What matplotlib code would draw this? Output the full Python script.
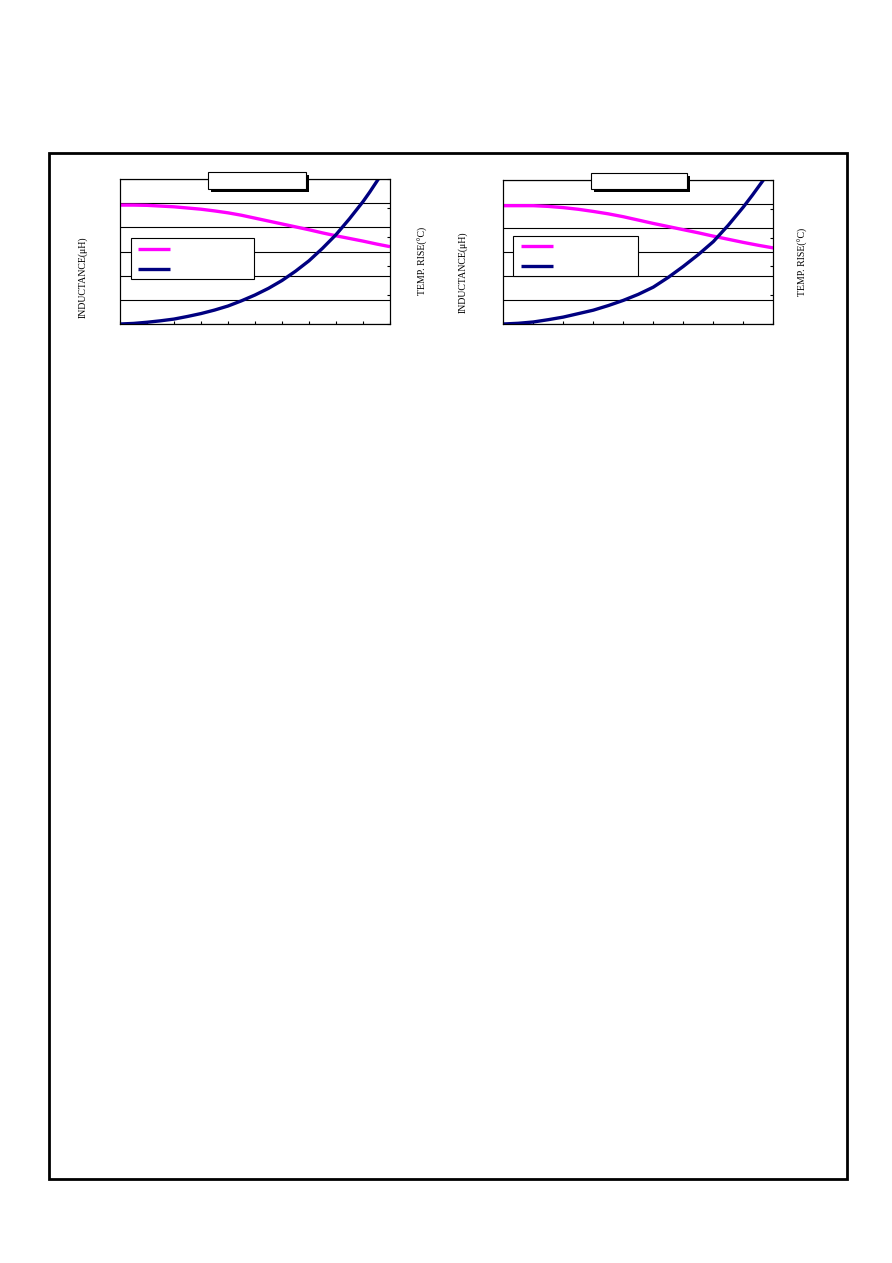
import matplotlib
matplotlib.use("Agg")
import matplotlib.pyplot as plt
from matplotlib.patches import Rectangle
from matplotlib.lines import Line2D

W, H = 892, 1263

# left chart: inductance (left axis) and temp rise (right axis)
x_a = [0, 0.5, 1, 1.5, 2, 2.5, 3, 3.5, 4, 4.5, 5, 5.5, 6, 6.5, 7, 7.5, 8, 8.5, 9, 9.5, 10]
ind_a = [4.92, 4.92, 4.91, 4.88, 4.85, 4.8, 4.75, 4.68, 4.6, 4.5, 4.38, 4.26, 4.14,
         4.02, 3.9, 3.77, 3.65, 3.54, 3.43, 3.31, 3.2]
xt_a = [0, 0.5, 1, 1.5, 2, 2.5, 3, 3.5, 4, 4.5, 5, 5.5, 6, 6.5, 7, 7.5, 8, 8.5, 9, 9.25, 9.57]
temp_a = [0, 0.02, 0.06, 0.11, 0.17, 0.26, 0.36, 0.48, 0.62, 0.8, 1.0, 1.23, 1.5,
          1.82, 2.18, 2.61, 3.08, 3.63, 4.22, 4.55, 5.0]

# right chart
x_b = [0, 0.5, 1, 1.5, 2, 2.5, 3, 3.5, 4, 4.5, 5, 5.5, 6, 6.5, 7, 7.5, 8, 8.5, 9]
ind_b = [4.93, 4.93, 4.93, 4.9, 4.85, 4.78, 4.69, 4.59, 4.47, 4.33, 4.19, 4.06, 3.93,
         3.8, 3.66, 3.53, 3.4, 3.28, 3.17]
xt_b = [0, 0.5, 1, 1.5, 2, 2.5, 3, 3.5, 4, 4.5, 5, 5.5, 6, 6.5, 7, 7.5, 8, 8.3, 8.67]
temp_b = [0, 0.025, 0.07, 0.15, 0.24, 0.36, 0.48, 0.64, 0.82, 1.03, 1.28, 1.62, 2.0,
          2.41, 2.86, 3.43, 4.06, 4.47, 5.0]

MAG = "#FF00FF"
NAVY = "#000080"

fig = plt.figure(figsize=(W / 100, H / 100), dpi=100)


def rect(x0, y0, x1, y1, **kw):
    r = Rectangle((x0 / W, 1 - y1 / H), (x1 - x0) / W, (y1 - y0) / H,
                  transform=fig.transFigure, **kw)
    fig.add_artist(r)


def hline(x0, x1, y, **kw):
    fig.add_artist(Line2D([x0 / W, x1 / W], [1 - y / H, 1 - y / H],
                          transform=fig.transFigure, **kw))


def panel(box, xs, ind, xt, temp, xmax, title_box, leg_box, leg_y, leg_x, lab_l, lab_r):
    l, t, r, b = box
    ax = fig.add_axes([l / W, 1 - b / H, (r - l) / W, (b - t) / H])
    ax.plot(xs, ind, color=MAG, lw=2.4, solid_capstyle="butt")
    ax.set_xlim(0, xmax)
    ax.set_ylim(0, 6)
    ax.set_yticks(range(7))
    ax.set_xticks(range(xmax + 1))
    ax.grid(axis="y", color="black", lw=0.8)
    ax.tick_params(axis="y", length=0, labelleft=False)
    ax.tick_params(axis="x", direction="in", length=2.5, width=0.8, labelbottom=False)
    for s in ax.spines.values():
        s.set_linewidth(0.8)

    ax2 = ax.twinx()
    ax2.plot(xt, temp, color=NAVY, lw=2.4, solid_capstyle="butt")
    ax2.set_ylim(0, 5)
    ax2.set_yticks(range(6))
    ax2.tick_params(axis="y", direction="in", length=2.5, width=0.8, labelright=False)
    for s in ax2.spines.values():
        s.set_linewidth(0.8)

    # title box with shadow
    x0, y0, x1, y1 = title_box
    rect(x0 + 3, y0 + 3, x1 + 3, y1 + 3, facecolor="black", edgecolor="none", zorder=3)
    rect(x0, y0, x1, y1, facecolor="white", edgecolor="black", lw=0.8, zorder=4)

    # legend box
    x0, y0, x1, y1 = leg_box
    rect(x0, y0, x1, y1, facecolor="white", edgecolor="black", lw=0.8, zorder=3)
    hline(leg_x[0], leg_x[1], leg_y[0], color=MAG, lw=2.4, zorder=4, solid_capstyle="butt")
    hline(leg_x[0], leg_x[1], leg_y[1], color=NAVY, lw=2.4, zorder=4, solid_capstyle="butt")

    fig.text(lab_l[0] / W, 1 - lab_l[1] / H, "INDUCTANCE(μH)", rotation=90,
             ha="center", va="center", family="Liberation Serif", fontsize=7.1)
    fig.text(lab_r[0] / W, 1 - lab_r[1] / H, "TEMP. RISE(°C)", rotation=90,
             ha="center", va="center", family="Liberation Serif", fontsize=7.1)


panel((120, 179, 390, 324), x_a, ind_a, xt_a, temp_a, 10,
      (208, 172, 306, 189), (131, 238, 254, 279), (249, 269), (138, 170),
      (83, 277), (423, 261))
panel((503.3, 180, 773.3, 324), x_b, ind_b, xt_b, temp_b, 9,
      (590.7, 172.7, 687.3, 189.3), (513.3, 236.3, 638.3, 276.3), (246.3, 266.3), (521, 553),
      (463, 272), (803, 262))

# outer frame
rect(48.7, 153, 847, 1179.3, facecolor="none", edgecolor="black", lw=2, zorder=5)

fig.savefig("out.png", dpi=100)
